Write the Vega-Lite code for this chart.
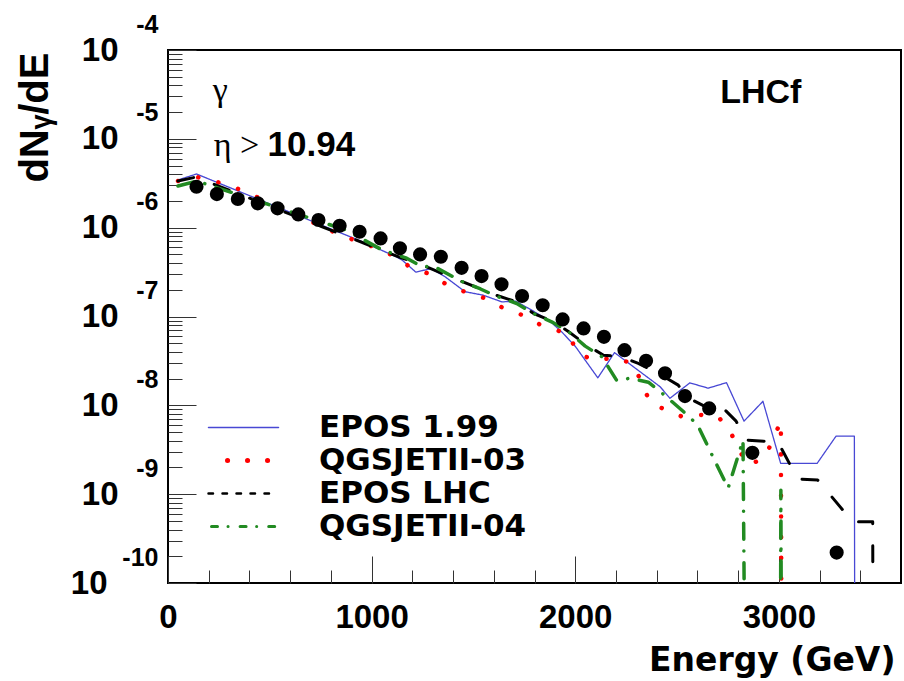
{
  "$schema": "https://vega.github.io/schema/vega-lite/v6.json",
  "width": 733,
  "height": 533,
  "autosize": "none",
  "padding": {"left": 168, "top": 50, "right": 3, "bottom": 98},
  "background": "white",
  "config": {
    "view": {"stroke": "black", "strokeWidth": 2},
    "axis": {"grid": false, "domain": false, "labelColor": "black", "titleColor": "black", "tickColor": "#333", "labelFlush": false, "labelOverlap": false}
  },
  "datasets": {
    "mc": [
      {"model": "EPOS 1.99", "E": 49, "v": 3.44e-6},
      {"model": "EPOS 1.99", "E": 140, "v": 4.02e-6},
      {"model": "EPOS 1.99", "E": 793, "v": 9.82e-7},
      {"model": "EPOS 1.99", "E": 955, "v": 6.94e-7},
      {"model": "EPOS 1.99", "E": 1121, "v": 4.70e-7},
      {"model": "EPOS 1.99", "E": 1150, "v": 4.32e-7},
      {"model": "EPOS 1.99", "E": 1217, "v": 3.16e-7},
      {"model": "EPOS 1.99", "E": 1292, "v": 3.46e-7},
      {"model": "EPOS 1.99", "E": 1361, "v": 2.80e-7},
      {"model": "EPOS 1.99", "E": 1459, "v": 1.90e-7},
      {"model": "EPOS 1.99", "E": 1547, "v": 1.74e-7},
      {"model": "EPOS 1.99", "E": 1640, "v": 1.46e-7},
      {"model": "EPOS 1.99", "E": 1707, "v": 1.49e-7},
      {"model": "EPOS 1.99", "E": 1772, "v": 1.23e-7},
      {"model": "EPOS 1.99", "E": 1870, "v": 9.1e-8},
      {"model": "EPOS 1.99", "E": 1935, "v": 6.67e-8},
      {"model": "EPOS 1.99", "E": 2002, "v": 4.56e-8},
      {"model": "EPOS 1.99", "E": 2111, "v": 2.04e-8},
      {"model": "EPOS 1.99", "E": 2193, "v": 3.92e-8},
      {"model": "EPOS 1.99", "E": 2417, "v": 1.62e-8},
      {"model": "EPOS 1.99", "E": 2465, "v": 1.20e-8},
      {"model": "EPOS 1.99", "E": 2563, "v": 1.79e-8},
      {"model": "EPOS 1.99", "E": 2653, "v": 1.56e-8},
      {"model": "EPOS 1.99", "E": 2743, "v": 1.80e-8},
      {"model": "EPOS 1.99", "E": 2829, "v": 6.64e-9},
      {"model": "EPOS 1.99", "E": 2922, "v": 1.11e-8},
      {"model": "EPOS 1.99", "E": 3009, "v": 2.22e-9},
      {"model": "EPOS 1.99", "E": 3188, "v": 2.22e-9},
      {"model": "EPOS 1.99", "E": 3281, "v": 4.50e-9},
      {"model": "EPOS 1.99", "E": 3371, "v": 4.50e-9},
      {"model": "EPOS 1.99", "E": 3373, "v": 1e-11},
      {"model": "QGSJETII-03", "E": 49, "v": 3.35e-6},
      {"model": "QGSJETII-03", "E": 142, "v": 3.71e-6},
      {"model": "QGSJETII-03", "E": 287, "v": 3.07e-6},
      {"model": "QGSJETII-03", "E": 380, "v": 2.54e-6},
      {"model": "QGSJETII-03", "E": 837, "v": 8.47e-7},
      {"model": "QGSJETII-03", "E": 927, "v": 7.06e-7},
      {"model": "QGSJETII-03", "E": 1022, "v": 5.94e-7},
      {"model": "QGSJETII-03", "E": 1111, "v": 4.79e-7},
      {"model": "QGSJETII-03", "E": 1193, "v": 3.55e-7},
      {"model": "QGSJETII-03", "E": 1287, "v": 3.0e-7},
      {"model": "QGSJETII-03", "E": 1369, "v": 2.28e-7},
      {"model": "QGSJETII-03", "E": 1462, "v": 1.88e-7},
      {"model": "QGSJETII-03", "E": 1559, "v": 1.60e-7},
      {"model": "QGSJETII-03", "E": 1645, "v": 1.25e-7},
      {"model": "QGSJETII-03", "E": 1739, "v": 1.04e-7},
      {"model": "QGSJETII-03", "E": 1823, "v": 8.2e-8},
      {"model": "QGSJETII-03", "E": 1968, "v": 6.29e-8},
      {"model": "QGSJETII-03", "E": 2012, "v": 3.84e-8},
      {"model": "QGSJETII-03", "E": 2101, "v": 3.17e-8},
      {"model": "QGSJETII-03", "E": 2196, "v": 3.49e-8},
      {"model": "QGSJETII-03", "E": 2286, "v": 2.89e-8},
      {"model": "QGSJETII-03", "E": 2326, "v": 1.79e-8},
      {"model": "QGSJETII-03", "E": 2367, "v": 1.09e-8},
      {"model": "QGSJETII-03", "E": 2438, "v": 9.0e-9},
      {"model": "QGSJETII-03", "E": 2527, "v": 7.42e-9},
      {"model": "QGSJETII-03", "E": 2612, "v": 7.82e-9},
      {"model": "QGSJETII-03", "E": 2699, "v": 7.56e-9},
      {"model": "QGSJETII-03", "E": 2759, "v": 5.26e-9},
      {"model": "QGSJETII-03", "E": 2801, "v": 3.19e-9},
      {"model": "QGSJETII-03", "E": 2854, "v": 2.12e-9},
      {"model": "QGSJETII-03", "E": 2932, "v": 2.61e-9},
      {"model": "QGSJETII-03", "E": 2974, "v": 4.27e-9},
      {"model": "QGSJETII-03", "E": 3010, "v": 6.64e-9},
      {"model": "QGSJETII-03", "E": 3013, "v": 1e-11},
      {"model": "EPOS LHC", "E": 49, "v": 3.35e-6},
      {"model": "EPOS LHC", "E": 137, "v": 3.71e-6},
      {"model": "EPOS LHC", "E": 1136, "v": 4.67e-7},
      {"model": "EPOS LHC", "E": 1248, "v": 3.79e-7},
      {"model": "EPOS LHC", "E": 1439, "v": 2.50e-7},
      {"model": "EPOS LHC", "E": 1610, "v": 1.74e-7},
      {"model": "EPOS LHC", "E": 1713, "v": 1.46e-7},
      {"model": "EPOS LHC", "E": 1796, "v": 1.08e-7},
      {"model": "EPOS LHC", "E": 1894, "v": 8.71e-8},
      {"model": "EPOS LHC", "E": 1968, "v": 6.73e-8},
      {"model": "EPOS LHC", "E": 2056, "v": 4.76e-8},
      {"model": "EPOS LHC", "E": 2139, "v": 3.67e-8},
      {"model": "EPOS LHC", "E": 2227, "v": 3.52e-8},
      {"model": "EPOS LHC", "E": 2310, "v": 2.96e-8},
      {"model": "EPOS LHC", "E": 2423, "v": 2.19e-8},
      {"model": "EPOS LHC", "E": 2506, "v": 1.69e-8},
      {"model": "EPOS LHC", "E": 2545, "v": 1.25e-8},
      {"model": "EPOS LHC", "E": 2658, "v": 9.18e-9},
      {"model": "EPOS LHC", "E": 2702, "v": 1.06e-8},
      {"model": "EPOS LHC", "E": 2790, "v": 6.64e-9},
      {"model": "EPOS LHC", "E": 2839, "v": 4.06e-9},
      {"model": "EPOS LHC", "E": 2996, "v": 3.85e-9},
      {"model": "EPOS LHC", "E": 3093, "v": 1.48e-9},
      {"model": "EPOS LHC", "E": 3191, "v": 1.44e-9},
      {"model": "EPOS LHC", "E": 3363, "v": 4.88e-10},
      {"model": "EPOS LHC", "E": 3461, "v": 4.88e-10},
      {"model": "EPOS LHC", "E": 3463, "v": 1e-11},
      {"model": "QGSJETII-04", "E": 49, "v": 2.94e-6},
      {"model": "QGSJETII-04", "E": 142, "v": 3.35e-6},
      {"model": "QGSJETII-04", "E": 875, "v": 9.40e-7},
      {"model": "QGSJETII-04", "E": 1052, "v": 5.60e-7},
      {"model": "QGSJETII-04", "E": 1168, "v": 4.58e-7},
      {"model": "QGSJETII-04", "E": 1248, "v": 3.63e-7},
      {"model": "QGSJETII-04", "E": 1302, "v": 3.70e-7},
      {"model": "QGSJETII-04", "E": 1439, "v": 2.50e-7},
      {"model": "QGSJETII-04", "E": 1535, "v": 2.04e-7},
      {"model": "QGSJETII-04", "E": 1610, "v": 1.70e-7},
      {"model": "QGSJETII-04", "E": 1713, "v": 1.40e-7},
      {"model": "QGSJETII-04", "E": 1796, "v": 1.08e-7},
      {"model": "QGSJETII-04", "E": 1884, "v": 8.71e-8},
      {"model": "QGSJETII-04", "E": 1968, "v": 6.73e-8},
      {"model": "QGSJETII-04", "E": 2049, "v": 4.64e-8},
      {"model": "QGSJETII-04", "E": 2131, "v": 3.52e-8},
      {"model": "QGSJETII-04", "E": 2204, "v": 1.90e-8},
      {"model": "QGSJETII-04", "E": 2270, "v": 2.02e-8},
      {"model": "QGSJETII-04", "E": 2359, "v": 1.82e-8},
      {"model": "QGSJETII-04", "E": 2424, "v": 1.39e-8},
      {"model": "QGSJETII-04", "E": 2563, "v": 7.36e-9},
      {"model": "QGSJETII-04", "E": 2604, "v": 5.83e-9},
      {"model": "QGSJETII-04", "E": 2677, "v": 2.61e-9},
      {"model": "QGSJETII-04", "E": 2751, "v": 1.17e-9},
      {"model": "QGSJETII-04", "E": 2824, "v": 4.06e-9},
      {"model": "QGSJETII-04", "E": 2833, "v": 1e-11},
      {"model": "QGSJETII-04", "E": 3008, "v": 1e-11},
      {"model": "QGSJETII-04", "E": 3010, "v": 1.11e-9},
      {"model": "QGSJETII-04", "E": 3013, "v": 1e-11}
    ],
    "pts": [
      {"E": 140, "v": 2.89e-6},
      {"E": 240, "v": 2.39e-6},
      {"E": 343, "v": 2.10e-6},
      {"E": 441, "v": 1.88e-6},
      {"E": 538, "v": 1.65e-6},
      {"E": 640, "v": 1.41e-6},
      {"E": 739, "v": 1.22e-6},
      {"E": 843, "v": 1.05e-6},
      {"E": 941, "v": 8.99e-7},
      {"E": 1044, "v": 7.57e-7},
      {"E": 1139, "v": 5.85e-7},
      {"E": 1238, "v": 5.00e-7},
      {"E": 1340, "v": 4.70e-7},
      {"E": 1442, "v": 3.53e-7},
      {"E": 1540, "v": 2.85e-7},
      {"E": 1638, "v": 2.30e-7},
      {"E": 1739, "v": 1.70e-7},
      {"E": 1840, "v": 1.34e-7},
      {"E": 1938, "v": 9.27e-8},
      {"E": 2041, "v": 7.35e-8},
      {"E": 2141, "v": 5.90e-8},
      {"E": 2242, "v": 4.18e-8},
      {"E": 2348, "v": 3.17e-8},
      {"E": 2441, "v": 2.29e-8},
      {"E": 2539, "v": 1.27e-8},
      {"E": 2658, "v": 9.23e-9},
      {"E": 2870, "v": 2.92e-9},
      {"E": 3284, "v": 2.20e-10}
    ]
  },
  "layer": [
    {
      "data": {"name": "mc"},
      "mark": {"type": "line", "clip": true, "strokeCap": "round", "strokeJoin": "round"},
      "encoding": {
        "x": {
          "field": "E", "type": "quantitative",
          "scale": {"domain": [0, 3600], "nice": false, "zero": false},
          "axis": {"orient": "bottom", "values": [0, 1000, 2000, 3000], "format": "d", "ticks": false,
            "labelFont": "Liberation Sans", "labelFontSize": 33, "labelFontWeight": "bold", "labelPadding": 18,
            "title": "Energy (GeV)", "titleFont": "DejaVu Sans", "titleFontSize": 33, "titleFontWeight": "bold",
            "titleAnchor": "end", "titleAlign": "right", "titleBaseline": "alphabetic", "titleX": 727, "titleY": 87}
        },
        "y": {
          "field": "v", "type": "quantitative",
          "scale": {"type": "log", "domain": [1e-10, 1e-4], "nice": false},
          "axis": {"orient": "left", "values": [1e-10, 1e-9, 1e-8, 1e-7, 1e-6, 1e-5, 1e-4], "ticks": false,
            "labelExpr": "'10'", "labelFont": "Liberation Sans", "labelFontSize": 33, "labelFontWeight": "bold",
            "labelBaseline": "middle",
            "labelPadding": {"condition": {"test": "datum.value < 3e-10", "value": 61}, "value": 50},
            "title": "dNᵧ/dE", "titleFont": "Liberation Sans", "titleFontSize": 40, "titleFontWeight": "bold",
            "titleAngle": 270, "titleAlign": "right", "titleBaseline": "middle", "titleX": -133, "titleY": 2}
        },
        "color": {
          "field": "model", "type": "nominal",
          "scale": {"domain": ["EPOS 1.99", "QGSJETII-03", "EPOS LHC", "QGSJETII-04"], "range": ["#4848d4", "#ff0000", "#000000", "#228b22"]},
          "legend": {
            "orient": "none", "legendX": 60, "legendY": 362, "title": null,
            "symbolType": "M-3.5,0H3.5", "symbolSize": 400, "symbolStrokeWidth": 3,
            "labelFont": "DejaVu Sans", "labelFontSize": 31, "labelFontWeight": "bold", "labelColor": "black",
            "labelOffset": 60, "labelLimit": 0, "rowPadding": 1,
            "encode": {
              "symbols": {
                "update": {
                  "strokeCap": {"value": "round"},
                  "strokeWidth": {"signal": "datum.value === 'EPOS 1.99' ? 1.5 : datum.value === 'QGSJETII-03' ? 5 : datum.value === 'EPOS LHC' ? 2.5 : 3"},
                  "strokeDash": {"signal": "datum.value === 'EPOS LHC' ? [4.5, 9.5] : datum.value === 'QGSJETII-04' ? [6, 10.5, 0.1, 12] : datum.value === 'QGSJETII-03' ? [0.1, 19.9] : [1, 0]"},
                  "strokeDashOffset": {"signal": "datum.value === 'QGSJETII-03' ? 1 : datum.value === 'QGSJETII-04' ? -3 : 0"}
                }
              }
            }
          }
        },
        "strokeDash": {
          "condition": [
            {"test": "datum.model === 'QGSJETII-03'", "value": [0.1, 20.6]},
            {"test": "datum.model === 'EPOS LHC'", "value": [16, 22]},
            {"test": "datum.model === 'QGSJETII-04'", "value": [16, 11.8, 0.1, 11.8]}
          ],
          "value": [1, 0]
        },
        "strokeWidth": {
          "condition": [
            {"test": "datum.model === 'EPOS 1.99'", "value": 1.3},
            {"test": "datum.model === 'QGSJETII-03'", "value": 4.5},
            {"test": "datum.model === 'EPOS LHC'", "value": 3}
          ],
          "value": 3.5
        }
      }
    },
    {
      "data": {"name": "pts"},
      "mark": {"type": "point", "shape": "circle", "filled": true, "color": "black", "opacity": 1, "size": 200, "clip": true},
      "encoding": {
        "x": {
          "field": "E", "type": "quantitative",
          "scale": {"domain": [0, 3600], "nice": false, "zero": false},
          "axis": {"orient": "bottom", "values": [0, 1000, 2000, 3000], "labels": false, "ticks": true, "tickSize": -27, "title": null}
        },
        "y": {
          "field": "v", "type": "quantitative",
          "scale": {"type": "log", "domain": [1e-10, 1e-4], "nice": false},
          "axis": {"orient": "left", "values": [1e-10, 1e-9, 1e-8, 1e-7, 1e-6, 1e-5, 1e-4], "ticks": false,
            "labelExpr": "'-' + round(-log(datum.value) / LN10)", "labelFont": "Liberation Sans", "labelFontSize": 25, "labelFontWeight": "bold",
            "labelBaseline": "middle", "labelPadding": 10, "labelOffset": -26, "title": null}
        }
      }
    },
    {
      "data": {"values": [{}]},
      "mark": {"type": "text", "text": "γ", "font": "Liberation Serif", "fontSize": 34, "align": "left", "baseline": "alphabetic", "color": "black"},
      "encoding": {
        "x": {
          "datum": 220, "type": "quantitative",
          "scale": {"domain": [0, 3600], "nice": false, "zero": false},
          "axis": {"orient": "bottom", "values": [200, 400, 600, 800, 1200, 1400, 1600, 1800, 2200, 2400, 2600, 2800, 3200, 3400], "labels": false, "ticks": true, "tickSize": -13, "title": null}
        },
        "y": {
          "datum": 2.67e-5, "type": "quantitative",
          "scale": {"type": "log", "domain": [1e-10, 1e-4], "nice": false},
          "axis": {"orient": "left", "values": [1e-10, 1e-9, 1e-8, 1e-7, 1e-6, 1e-5, 1e-4], "labels": false, "ticks": true, "tickSize": -28, "title": null}
        }
      }
    },
    {
      "data": {"values": [{}]},
      "mark": {"type": "text", "text": "η >", "font": "Liberation Serif", "fontSize": 34, "align": "left", "baseline": "alphabetic", "color": "black"},
      "encoding": {
        "x": {"datum": 225, "type": "quantitative", "scale": {"domain": [0, 3600], "nice": false, "zero": false}, "axis": null},
        "y": {
          "datum": 6.39e-6, "type": "quantitative",
          "scale": {"type": "log", "domain": [1e-10, 1e-4], "nice": false},
          "axis": {"orient": "left", "labels": false, "ticks": true, "tickSize": -14, "title": null,
            "values": [2e-10, 3e-10, 4e-10, 5e-10, 6e-10, 7e-10, 8e-10, 9e-10, 2e-9, 3e-9, 4e-9, 5e-9, 6e-9, 7e-9, 8e-9, 9e-9, 2e-8, 3e-8, 4e-8, 5e-8, 6e-8, 7e-8, 8e-8, 9e-8, 2e-7, 3e-7, 4e-7, 5e-7, 6e-7, 7e-7, 8e-7, 9e-7, 2e-6, 3e-6, 4e-6, 5e-6, 6e-6, 7e-6, 8e-6, 9e-6, 2e-5, 3e-5, 4e-5, 5e-5, 6e-5, 7e-5, 8e-5, 9e-5]}
        }
      }
    },
    {
      "data": {"values": [{}]},
      "mark": {"type": "text", "text": "10.94", "font": "Liberation Sans", "fontWeight": "bold", "fontSize": 35, "align": "left", "baseline": "alphabetic", "color": "black"},
      "encoding": {
        "x": {"datum": 489, "type": "quantitative", "scale": {"domain": [0, 3600], "nice": false, "zero": false}, "axis": null},
        "y": {"datum": 6.39e-6, "type": "quantitative", "scale": {"type": "log", "domain": [1e-10, 1e-4], "nice": false}, "axis": null}
      }
    },
    {
      "data": {"values": [{}]},
      "mark": {"type": "text", "text": "LHCf", "font": "Liberation Sans", "fontWeight": "bold", "fontSize": 34, "align": "left", "baseline": "alphabetic", "color": "black"},
      "encoding": {
        "x": {"datum": 2712, "type": "quantitative", "scale": {"domain": [0, 3600], "nice": false, "zero": false}, "axis": null},
        "y": {"datum": 2.53e-5, "type": "quantitative", "scale": {"type": "log", "domain": [1e-10, 1e-4], "nice": false}, "axis": null}
      }
    }
  ],
  "resolve": {"axis": {"x": "independent", "y": "independent"}}
}
